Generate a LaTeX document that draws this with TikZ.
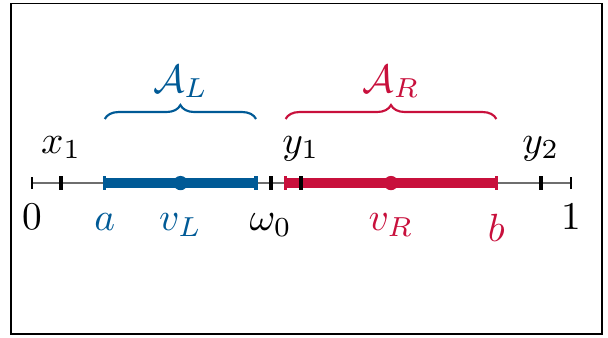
\documentclass[tikz,border=0pt]{standalone}
\usetikzlibrary{decorations.pathreplacing, positioning}
\definecolor{IntBlue}{HTML}{005A96}
\definecolor{IntRed}{HTML}{C8103C}
\definecolor{AxisGray}{HTML}{6E6E6E}
\tikzset{
    % axis and ticks
    axisline/.style={draw=AxisGray, line width=0.5pt},
    endtick/.style={draw=black, line width=0.4pt},
    pointtick/.style={draw=black, line width=1.1pt},
    % intervals
    interval/.style={line width=2.6pt},
    intcap/.style={line width=0.9pt},
    centredot/.style={circle, inner sep=0pt, minimum size=4pt},
    bracebar/.style={decorate, decoration={brace, amplitude=3.9pt}, line width=0.6pt},
    % labels
    lowlabel/.style={anchor=north, inner sep=0pt, scale=1.1},
    highlabel/.style={anchor=base, inner sep=0pt, scale=1.1}
}

\begin{document}
\begin{tikzpicture}[x=5.3cm, y=1cm]
    \useasboundingbox (-0.0594,-1.515) rectangle (1.0686,1.80);
    \draw[line width=0.5pt] (-0.039,-1.486) rectangle (1.0575,1.766);

    % points on the unit interval
    \coordinate (zero) at (0,0);
    \coordinate (one) at (1,0);
    \coordinate (x1) at (0.054,0);
    \coordinate (a) at (0.135,0);
    \coordinate (vL) at (0.2755,0);
    \coordinate (aend) at (0.4156,0);
    \coordinate (w0) at (0.443,0);
    \coordinate (bstart) at (0.4705,0);
    \coordinate (y1) at (0.4985,0);
    \coordinate (vR) at (0.666,0);
    \coordinate (b) at (0.8615,0);
    \coordinate (y2) at (0.944,0);

    % axis
    \draw[axisline] (zero) -- (one);
    \foreach \p in {zero, one}
        \draw[endtick] ([yshift=-0.06cm]\p) -- ([yshift=0.06cm]\p);

    % left interval
    \draw[interval, IntBlue] (a) -- (aend);
    \foreach \p in {a, aend}
        \draw[intcap, IntBlue] ([yshift=-0.066cm]\p) -- ([yshift=0.066cm]\p);
    \node[centredot, fill=IntBlue] (dotL) at (vL) {};

    % right interval
    \draw[interval, IntRed] (bstart) -- (b);
    \foreach \p in {bstart, b}
        \draw[intcap, IntRed] ([yshift=-0.066cm]\p) -- ([yshift=0.066cm]\p);
    \node[centredot, fill=IntRed] (dotR) at (vR) {};

    % sample points
    \foreach \p in {x1, w0, y1, y2}
        \draw[pointtick] ([yshift=-0.066cm]\p) -- ([yshift=0.066cm]\p);

    % braces
    \draw[bracebar, IntBlue] ([yshift=0.63cm]a) -- ([yshift=0.63cm]aend);
    \draw[bracebar, IntRed] ([yshift=0.63cm]bstart) -- ([yshift=0.63cm]b);

    % labels above
    \node[highlabel, IntBlue] (labAL) at ([yshift=0.895cm]vL) {$\mathcal{A}_L$};
    \node[highlabel, IntRed] (labAR) at ([yshift=0.895cm]vR) {$\mathcal{A}_R$};
    \node[highlabel] (labx1) at ([yshift=0.295cm]x1) {$x_1$};
    \node[highlabel] (laby1) at ([yshift=0.295cm]y1) {$y_1$};
    \node[highlabel] (laby2) at ([yshift=0.295cm]y2) {$y_2$};

    % labels below
    \node[lowlabel] (labzero) at ([yshift=-0.197cm]zero) {$0$};
    \node[lowlabel] (labone) at ([yshift=-0.197cm]one) {$1$};
    \node[lowlabel, IntBlue] (laba) at ([yshift=-0.295cm]a) {$a$};
    \node[lowlabel, IntBlue] (labvL) at ([yshift=-0.295cm]vL) {$v_L$};
    \node[lowlabel] (labw0) at ([yshift=-0.295cm]w0) {$\omega_0$};
    \node[lowlabel, IntRed] (labvR) at ([yshift=-0.295cm]vR) {$v_R$};
    \node[lowlabel, IntRed] (labb) at ([yshift=-0.295cm]b) {$b$};
\end{tikzpicture}
\end{document}
